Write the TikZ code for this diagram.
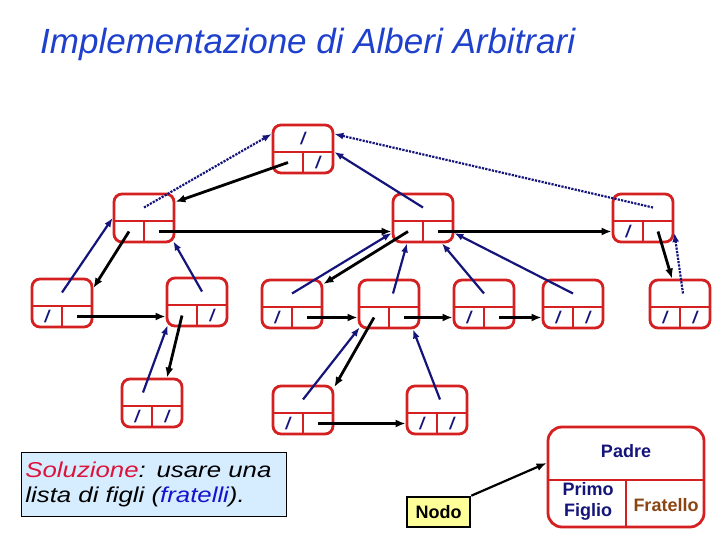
\documentclass[tikz,border=0pt]{standalone}
\usepackage{fontspec}
\setmainfont{Liberation Sans}
\newfontfamily\solfont[FakeStretch=1.2,WordSpace=1.8]{Liberation Sans}
\usetikzlibrary{arrows.meta}
\definecolor{rossoNodo}{HTML}{D42020}
\definecolor{bluNotte}{HTML}{14147A}
\definecolor{bluTitolo}{HTML}{1E40CC}
\definecolor{softBlue}{HTML}{D6ECFF}
\definecolor{softYellow}{HTML}{FFFF99}
\definecolor{marrone}{HTML}{8B4513}
\definecolor{cremisi}{HTML}{DC143C}
\definecolor{bluFratelli}{HTML}{1414CC}
% nodo della lista: nome, x, y, padre, primo figlio, fratello
\newcommand{\lnode}[6]{%
  \node[cella] (#1) at (#2,#3) {};
  \draw[bordo] ([yshift=-3pt]#1.west) -- ([yshift=-3pt]#1.east);
  \draw[bordo] ([yshift=-3pt]#1.center) -- (#1.south);
  \node[campo] (#1-p) at ([yshift=10.5pt]#1.center) {#4};
  \node[campo] (#1-f) at ([shift={(-15pt,-13.5pt)}]#1.center) {#5};
  \node[campo] (#1-s) at ([shift={(15pt,-13.5pt)}]#1.center) {#6};
}

\begin{document}
\begin{tikzpicture}[x=1pt, y=-1pt,
    cella/.style={draw=rossoNodo, line width=2.8pt, rounded corners=8pt, minimum width=60pt, minimum height=48pt, inner sep=0pt},
    bordo/.style={draw=rossoNodo, line width=2.8pt},
    campo/.style={inner sep=0pt, text=bluNotte, font=\fontsize{17}{17}\selectfont\bfseries\itshape},
    figlio/.style={-{Latex[length=10pt,width=8pt]}, line width=2.8pt, black},
    padre/.style={-{Latex[length=9pt,width=7pt]}, line width=2.2pt, bluNotte},
    padrep/.style={padre, dash pattern=on 2.2pt off 1.2pt},
    etich/.style={font=\fontsize{18}{21}\selectfont\bfseries, align=center}
  ]
  \useasboundingbox (0,0) rectangle (720,540);

  \node[anchor=base west, text=bluTitolo, font=\fontsize{35}{40}\selectfont\itshape, inner sep=0pt] (titolo) at (40,54) {Implementazione di Alberi Arbitrari};

  \lnode{R}{303}{149}{/}{}{/}
  \lnode{A}{144}{218}{}{}{}
  \lnode{B}{423}{218}{}{}{}
  \lnode{C}{643}{218}{}{/}{}
  \lnode{D}{62}{303}{}{/}{}
  \lnode{E}{197}{302}{}{}{/}
  \lnode{F}{292}{304}{}{/}{}
  \lnode{G}{389}{304}{}{}{}
  \lnode{H}{484}{304}{}{/}{}
  \lnode{I}{573}{304}{}{/}{/}
  \lnode{J}{680}{304}{}{/}{/}
  \lnode{K}{152}{403}{}{/}{/}
  \lnode{L}{303}{410}{}{/}{}
  \lnode{M}{437}{410}{}{/}{/}

  % primo figlio e fratello
  \draw[figlio] (R-f.center) -- ([yshift=16pt]A.east);
  \draw[figlio] (A-s.center) -- (A-s.center -| B.west);
  \draw[figlio] (A-f.center) -- ([yshift=15pt]D.east);
  \draw[figlio] (B-s.center) -- (B-s.center -| C.west);
  \draw[figlio] (B-f.center) -- ([yshift=20pt]F.east);
  \draw[figlio] (C-s.center) -- ([xshift=-8pt]J.north);
  \draw[figlio] (D-s.center) -- (D-s.center -| E.west);
  \draw[figlio] (E-f.center) -- ([xshift=15pt]K.north);
  \draw[figlio] (F-s.center) -- (F-s.center -| G.west);
  \draw[figlio] (G-s.center) -- (G-s.center -| H.west);
  \draw[figlio] (H-s.center) -- (H-s.center -| I.west);
  \draw[figlio] (G-f.center) -- ([yshift=23pt]L.east);
  \draw[figlio] (L-s.center) -- (L-s.center -| M.west);

  % padre
  \draw[padrep] (A-p.center) -- ([yshift=15pt]R.west);
  \draw[padre] (B-p.center) -- ([yshift=-3pt]R.east);
  \draw[padrep] ([xshift=10pt]C-p.center) -- ([yshift=15pt]R.east);
  \draw[padre] (D-p.center) -- (A.west);
  \draw[padre] ([xshift=5pt]E-p.center) -- ([shift={(-2pt,2pt)}]A.south east);
  \draw[padre] ([xshift=-9pt]K-p.center) -- ([shift={(2pt,2pt)}]E.south west);
  \draw[padre] (F-p.center) -- ([yshift=-15pt]B.west);
  \draw[padre] ([xshift=4pt]G-p.center) -- ([xshift=-16pt]B.south);
  \draw[padre] (H-p.center) -- ([xshift=19pt]B.south);
  \draw[padre] (I-p.center) -- ([yshift=-15pt]B.east);
  \draw[padrep] ([xshift=3pt]J-p.center) -- ([yshift=-15pt]C.east);
  \draw[padre] (L-p.center) -- ([shift={(2pt,2pt)}]G.south west);
  \draw[padre] ([xshift=3pt]M-p.center) -- ([xshift=24pt]G.south);

  % legenda
  \node[cella, minimum width=156pt, minimum height=100pt, rounded corners=14pt] (leg) at (626,477) {};
  \draw[bordo] ([yshift=-3pt]leg.west) -- ([yshift=-3pt]leg.east);
  \draw[bordo] ([yshift=-3pt]leg.center) -- (leg.south);
  \node[etich, text=bluNotte] (leg-p) at ([yshift=26pt]leg.center) {Padre};
  \node[etich, text=bluNotte] (leg-f) at ([shift={(-38pt,-24pt)}]leg.center) {Primo\\Figlio};
  \node[etich, text=marrone] (leg-s) at ([shift={(40pt,-28pt)}]leg.center) {Fratello};

  \node[etich, draw, line width=2.6pt, fill=softYellow, minimum width=63pt, minimum height=30pt, inner sep=2pt] (nodo) at (438.5,512) {Nodo};
  \draw[figlio, line width=2.2pt] (nodo.north east) -- ([yshift=14pt]leg.west);

  \node[draw, fill=softBlue, line width=0.8pt, anchor=north west, minimum width=265pt, minimum height=64pt, text width=257pt, inner sep=4pt, align=left, font=\solfont\itshape\fontsize{21.5}{24.7}\selectfont] (sol) at (21,452) {\textcolor{cremisi}{Soluzione}: usare una\\lista di figli (\textcolor{bluFratelli}{fratelli}).};
\end{tikzpicture}
\end{document}
